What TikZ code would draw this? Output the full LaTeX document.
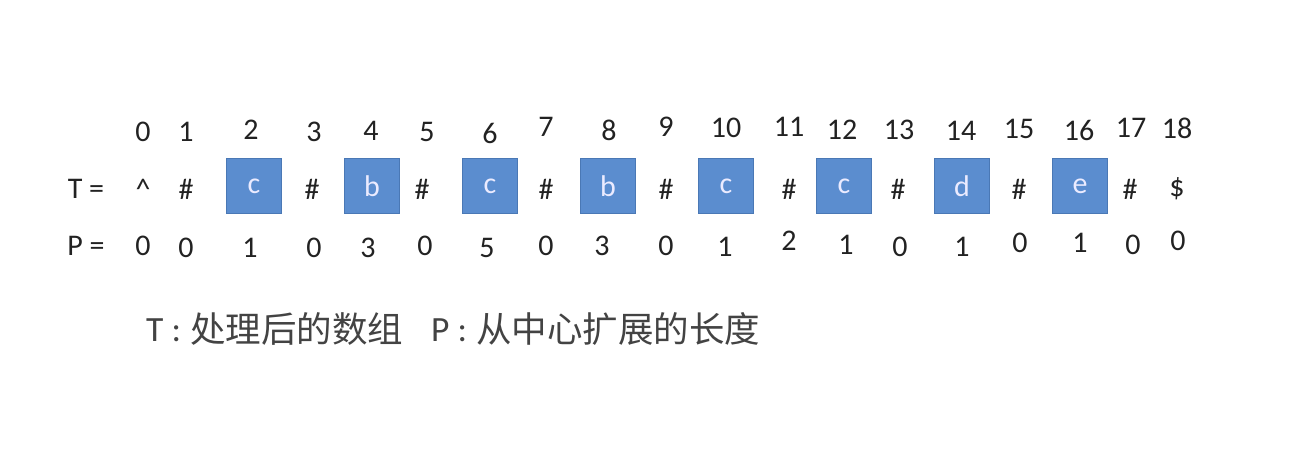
\documentclass[tikz,border=0pt]{standalone}
\usepackage{fontspec}
\setmainfont{Carlito}
\newfontfamily\cjk{Noto Sans CJK SC}
\definecolor{boxblue}{HTML}{5B8DCF}
\definecolor{boxedge}{HTML}{4A78B5}
\definecolor{ink}{HTML}{222222}
\begin{document}
\begin{tikzpicture}[x=1pt,y=-1pt,
  txt/.style={inner sep=0pt,text=ink,font=\fontsize{30}{36}\selectfont},
  cell/.style={draw=boxedge,line width=1pt,fill=boxblue,minimum width=55pt,minimum height=55pt,inner sep=0pt,text=white!92!blue,font=\fontsize{30}{36}\selectfont},
  captxt/.style={inner sep=0pt,text=ink!85,font=\fontsize{35.5}{42}\selectfont,anchor=west}]
\useasboundingbox (0,0) rectangle (1300,460);
% index row
\foreach \i/\x/\y in {0/143/132,1/186/132,2/251/130,3/314/132,4/371/131,5/427/132,6/490/133,7/546/127,8/609/130,9/666/127,10/726/128,11/789/127,12/842/130,13/899/130,14/961/131,15/1019/129,16/1079/130,17/1131/128,18/1177/128}
  \node[txt] (i\i) at (\x,\y) {\i};
% T row
\node[txt] (tlabel) at (86,189) {T =};
\foreach \i/\x/\c in {0/143/\^{},1/186/\#,3/312/\#,5/422/\#,7/546/\#,9/666/\#,11/789/\#,13/898/\#,15/1019/\#,17/1130/\#,18/1177/\$}
  \node[txt] (t\i) at (\x,189) {\c};
\foreach \i/\x/\c in {2/254/c,4/372/b,6/490/c,8/608/b,10/726/c,12/844/c,14/962/d,16/1080/e}
  \node[cell] (t\i) at (\x,186) {\c};
% P row
\node[txt] (plabel) at (86,246) {P =};
\foreach \i/\x/\y/\v in {0/143/246/0,1/186/248/0,2/250/248/1,3/314/248/0,4/368/248/3,5/425/246/0,6/487/248/5,7/546/246/0,8/602/246/3,9/666/246/0,10/725/247/1,11/789/241/2,12/846/245/1,13/900/247/0,14/962/247/1,15/1020/243/0,16/1080/243/1,17/1133/245/0,18/1178/241/0}
  \node[txt] (p\i) at (\x,\y) {\v};
% caption
\node[captxt] (capT) at (146,330) {T :};
\node[captxt] (capTt) at (190,329) {\cjk 处理后的数组};
\node[captxt] (capP) at (431,330) {P :};
\node[captxt] (capPt) at (476,329) {\cjk 从中心扩展的长度};
\end{tikzpicture}
\end{document}
